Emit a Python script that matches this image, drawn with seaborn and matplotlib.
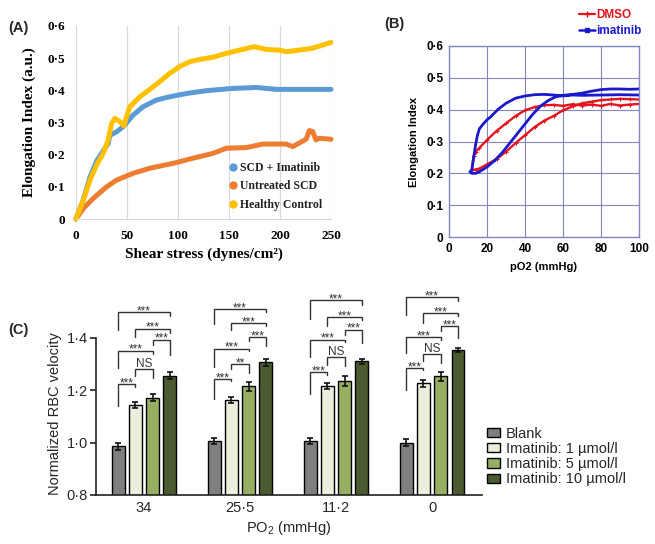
import numpy as np
import pandas as pd
import seaborn as sns
import matplotlib.pyplot as plt
from matplotlib.lines import Line2D
from matplotlib.ticker import FuncFormatter

# --- Panel A: elongation index vs shear stress ---
shear_imatinib = [0, 7.2, 13.7, 20.2, 28.4, 31.6, 33.2, 39.8, 46.3, 56, 65.8, 78.9, 91.9, 108,
                  127.8, 153.8, 176.7, 196.2, 219, 250]
ei_imatinib = [0, 0.06, 0.13, 0.18, 0.22, 0.235, 0.26, 0.271, 0.287, 0.323, 0.349, 0.37, 0.38, 0.39,
               0.399, 0.406, 0.409, 0.403, 0.403, 0.403]

shear_untreated = [0, 7.2, 16.9, 30, 39.8, 56, 72.4, 95.2, 114.7, 134.3, 147.3, 166.9, 183.2, 206,
                   212.5, 225.6, 228.8, 232, 235.3, 238.6, 250]
ei_untreated = [0, 0.033, 0.064, 0.1, 0.121, 0.142, 0.158, 0.173, 0.189, 0.204, 0.22, 0.222, 0.233,
                0.233, 0.225, 0.248, 0.275, 0.272, 0.246, 0.251, 0.248]

shear_healthy = [0, 7.2, 13.7, 20.2, 26.7, 31.6, 34.9, 38.1, 43, 46.9, 49.5, 52.8, 62.6, 72.4, 82.1,
                 91.9, 101.7, 111.5, 121.3, 134.3, 147.3, 160.4, 175, 186.4, 199.5, 206, 219, 232, 250]
ei_healthy = [0, 0.059, 0.121, 0.168, 0.204, 0.246, 0.297, 0.313, 0.303, 0.289, 0.318, 0.349, 0.38,
              0.403, 0.427, 0.453, 0.474, 0.489, 0.496, 0.503, 0.515, 0.525, 0.536, 0.527, 0.525,
              0.52, 0.525, 0.531, 0.549]

groups_a = ['SCD + Imatinib', 'Untreated SCD', 'Healthy Control']
colors_a = ['#5B9BD5', '#ED7D31', '#FFC000']

# --- Panel B: elongation index vs pO2 (hysteresis loops) ---
po2_dmso = [100, 95, 90, 85, 80, 75, 70, 65, 60, 55, 50, 45, 40, 35, 30, 25, 20, 16, 14, 13, 12,
            14, 16, 20, 25, 30, 35, 40, 45, 50, 55, 60, 65, 70, 75, 80, 85, 90, 95, 100]
ei_dmso = [0.418, 0.416, 0.413, 0.418, 0.412, 0.416, 0.413, 0.417, 0.412, 0.415, 0.414, 0.408, 0.398,
           0.38, 0.357, 0.333, 0.305, 0.28, 0.268, 0.255, 0.21,
           0.212, 0.215, 0.228, 0.245, 0.268, 0.295, 0.32, 0.345, 0.365, 0.38, 0.398, 0.41, 0.42,
           0.425, 0.43, 0.432, 0.434, 0.433, 0.432]

po2_imatinib = [100, 90, 80, 70, 65, 60, 55, 50, 45, 40, 35, 30, 26, 22, 20, 18, 16, 15, 14, 13, 12, 11,
                12, 14, 16, 20, 24, 28, 32, 36, 40, 44, 48, 52, 56, 60, 65, 70, 75, 80, 85, 90, 95, 100]
ei_imatinib_b = [0.446, 0.447, 0.446, 0.445, 0.446, 0.443, 0.446, 0.448, 0.447, 0.443, 0.436, 0.42,
                 0.402, 0.378, 0.368, 0.355, 0.34, 0.32, 0.29, 0.25, 0.21, 0.205,
                 0.2, 0.2, 0.205, 0.22, 0.24, 0.265, 0.295, 0.325, 0.355, 0.385, 0.41, 0.428, 0.44,
                 0.445, 0.448, 0.452, 0.458, 0.463, 0.465, 0.465, 0.464, 0.465]

# --- Panel C: normalized RBC velocity ---
po2_levels = ['34', '25·5', '11·2', '0']
treatments = ['Blank', 'Imatinib: 1 µmol/l', 'Imatinib: 5 µmol/l', 'Imatinib: 10 µmol/l']
vel_blank = [0.985, 1.007, 1.005, 1.0]
vel_1um = [1.142, 1.162, 1.215, 1.225]
vel_5um = [1.17, 1.215, 1.235, 1.252]
vel_10um = [1.255, 1.305, 1.31, 1.352]
err_blank = [0.013, 0.012, 0.012, 0.015]
err_1um = [0.012, 0.013, 0.012, 0.012]
err_5um = [0.013, 0.017, 0.018, 0.018]
err_10um = [0.013, 0.013, 0.01, 0.008]
colors_c = ['#7F7F7F', '#EDF0DA', '#9CBB58', '#4E6228']

# significance brackets (bar i, bar j) and their levels for each PO2 group
bracket_pairs = [(0, 1), (1, 2), (0, 2), (2, 3), (1, 3), (0, 3)]
bracket_top = [[1.222, 1.281, 1.350, 1.392, 1.434, 1.497],
               [1.242, 1.299, 1.357, 1.402, 1.455, 1.509],
               [1.267, 1.324, 1.392, 1.430, 1.478, 1.542],
               [1.283, 1.338, 1.402, 1.443, 1.493, 1.554]]
bracket_left = [[1.140, 1.254, 1.283, 1.373, 1.402, 1.427],
                [1.165, 1.280, 1.287, 1.385, 1.430, 1.451],
                [1.186, 1.296, 1.325, 1.411, 1.442, 1.471],
                [1.201, 1.309, 1.341, 1.423, 1.455, 1.487]]
bracket_right = [[1.213, 1.245, 1.338, 1.334, 1.417, 1.481],
                 [1.233, 1.264, 1.347, 1.369, 1.442, 1.496],
                 [1.258, 1.292, 1.381, 1.379, 1.465, 1.525],
                 [1.277, 1.303, 1.392, 1.398, 1.481, 1.538]]
bracket_labels = [['***', 'NS', '***', '***', '***', '***'],
                  ['***', '**', '***', '***', '***', '***'],
                  ['***', 'NS', '***', '***', '***', '***'],
                  ['***', 'NS', '***', '***', '***', '***']]


def dot_fmt(v, pos):
    if abs(v) < 1e-9:
        return '0'
    return f'{v:.1f}'.replace('.', '·')


sns.set_style('white')
plt.rcParams['font.family'] = ['Liberation Sans', 'DejaVu Sans']
plt.rcParams['mathtext.default'] = 'regular'

W, H = 655, 544
fig = plt.figure(figsize=(W / 100, H / 100), dpi=100)


def px_axes(left, top, right, bottom):
    return fig.add_axes([left / W, 1 - bottom / H, (right - left) / W, (bottom - top) / H])


# ---------------- Panel A ----------------
axA = px_axes(76, 26, 331, 219)
dfA = pd.concat([
    pd.DataFrame({'shear': shear_imatinib, 'ei': ei_imatinib, 'group': groups_a[0]}),
    pd.DataFrame({'shear': shear_untreated, 'ei': ei_untreated, 'group': groups_a[1]}),
    pd.DataFrame({'shear': shear_healthy, 'ei': ei_healthy, 'group': groups_a[2]}),
])
sns.lineplot(data=dfA, x='shear', y='ei', hue='group', hue_order=groups_a, palette=colors_a,
             sort=False, estimator=None, lw=3.6, ax=axA, legend=False)
for ln in axA.lines:
    ln.set_clip_on(False)
    ln.set_solid_capstyle('round')
    ln.set_solid_joinstyle('round')
axA.set_xlim(0, 250)
axA.set_ylim(0, 0.6)
axA.set_xticks(range(0, 251, 50))
axA.set_yticks(np.arange(0, 0.61, 0.1))
axA.yaxis.set_major_formatter(FuncFormatter(dot_fmt))
axA.xaxis.grid(True, color='#d9d9d9', lw=0.9)
axA.yaxis.grid(False)
for s in ['left', 'top', 'right']:
    axA.spines[s].set_visible(False)
axA.spines['bottom'].set_color('#d9d9d9')
serif_b = {'family': 'Liberation Serif', 'weight': 'bold'}
axA.tick_params(length=0, pad=8)
for lab in axA.get_xticklabels() + axA.get_yticklabels():
    lab.set_fontfamily('Liberation Serif')
    lab.set_fontweight('bold')
    lab.set_fontsize(9.5)
    lab.set_color('black')
axA.set_xlabel('Shear stress (dynes/cm²)', fontdict=serif_b, fontsize=11, color='black', labelpad=4)
axA.set_ylabel('Elongation Index (a.u.)', fontdict=serif_b, fontsize=11, color='black', labelpad=8)
handles_a = [Line2D([], [], marker='o', ls='', color=c, markersize=5) for c in colors_a]
legA = axA.legend(handles_a, groups_a, loc='lower right', frameon=False,
                  prop={'family': 'Liberation Serif', 'weight': 'bold', 'size': 8.5},
                  handletextpad=0.1, labelspacing=0.55, borderaxespad=0.3, handlelength=1.0)
for t in legA.get_texts():
    t.set_color('#222222')

# ---------------- Panel B ----------------
axB = px_axes(449, 46, 639, 237)
frame_b = '#8585C2'
red_b, blue_b = '#E3141E', '#1A1ACC'
dfB = pd.concat([
    pd.DataFrame({'po2': po2_dmso, 'ei': ei_dmso, 'group': 'DMSO'}),
    pd.DataFrame({'po2': po2_imatinib, 'ei': ei_imatinib_b, 'group': 'imatinib'}),
])
sns.lineplot(data=dfB[dfB.group == 'DMSO'], x='po2', y='ei', color=red_b, sort=False,
             estimator=None, lw=1.7, marker='+', markersize=3, mew=0.8, mec=red_b, ax=axB)
sns.lineplot(data=dfB[dfB.group == 'imatinib'], x='po2', y='ei', color=blue_b, sort=False,
             estimator=None, lw=2.0, marker='s', markersize=2, mew=0, mec=blue_b, ax=axB)
axB.set_xlim(0, 100)
axB.set_ylim(0, 0.6)
axB.set_xticks(range(0, 101, 20))
axB.set_yticks(np.arange(0, 0.61, 0.1))
axB.yaxis.set_major_formatter(FuncFormatter(dot_fmt))
axB.grid(True, color=frame_b, lw=0.8)
for s in axB.spines.values():
    s.set_color(frame_b)
    s.set_linewidth(1.0)
axB.tick_params(length=0, pad=4, labelsize=8.5, labelcolor='black')
for lab in axB.get_xticklabels() + axB.get_yticklabels():
    lab.set_fontweight('bold')
axB.set_xlabel('pO2 (mmHg)', fontsize=8, fontweight='bold', color='black', labelpad=5)
axB.set_ylabel('Elongation Index', fontsize=8, fontweight='bold', color='black', labelpad=5)
handles_b = [Line2D([], [], color=red_b, lw=1.6, marker='+', markersize=4, mew=1),
             Line2D([], [], color=blue_b, lw=1.8, marker='s', markersize=2.5)]
legB = fig.legend(handles_b, ['DMSO', 'imatinib'], loc='upper right', bbox_to_anchor=(646 / W, 1 - 4 / H),
                  frameon=False, prop={'weight': 'bold', 'size': 8.5}, handlelength=1.4,
                  handletextpad=0.05, labelspacing=0.35, borderaxespad=0)
for t, c in zip(legB.get_texts(), [red_b, blue_b]):
    t.set_color(c)

# ---------------- Panel C ----------------
axC = px_axes(96, 285, 482, 495)
vel_all = [vel_blank, vel_1um, vel_5um, vel_10um]
err_all = [err_blank, err_1um, err_5um, err_10um]
dfC = pd.DataFrame({
    'po2': np.tile(po2_levels, len(treatments)),
    'treatment': np.repeat(treatments, len(po2_levels)),
    'velocity': np.concatenate(vel_all),
})
sns.barplot(data=dfC, x='po2', y='velocity', hue='treatment', order=po2_levels, hue_order=treatments,
            palette=colors_c, width=0.72, gap=0.25, edgecolor='black', linewidth=1.0,
            errorbar=None, ax=axC)
bar_conts = list(axC.containers)
centers = np.zeros((len(po2_levels), len(treatments)))
for k, cont in enumerate(bar_conts):
    xs = [b.get_x() + b.get_width() / 2 for b in cont]
    ys = [b.get_height() for b in cont]
    centers[:, k] = xs
    axC.errorbar(xs, ys, yerr=err_all[k], fmt='none', ecolor='#111111', elinewidth=1.2,
                 capsize=2.5, capthick=1.2, zorder=5)

for g in range(len(po2_levels)):
    for b, (i, j) in enumerate(bracket_pairs):
        x1, x2 = centers[g, i], centers[g, j]
        top = bracket_top[g][b]
        axC.plot([x1, x1, x2, x2], [bracket_left[g][b], top, top, bracket_right[g][b]],
                 color='#333333', lw=1.0, solid_joinstyle='miter')
        lab = bracket_labels[g][b]
        if lab == 'NS':
            axC.annotate(lab, ((x1 + x2) / 2, top), xytext=(0, 1.5), textcoords='offset points',
                         ha='center', va='baseline', fontsize=8.5, color='#333333')
        else:
            axC.annotate(lab, ((x1 + x2) / 2, top), xytext=(0, -1.5), textcoords='offset points',
                         ha='center', va='baseline', fontsize=8.5, color='#333333')

axC.set_xlim(-0.5, 3.52)
axC.set_ylim(0.8, 1.6)
axC.set_yticks([0.8, 1.0, 1.2, 1.4])
axC.yaxis.set_major_formatter(FuncFormatter(dot_fmt))
axC.spines['top'].set_visible(False)
axC.spines['right'].set_visible(False)
axC.spines['left'].set_bounds(0.8, 1.4)
for s in ['left', 'bottom']:
    axC.spines[s].set_color('#222222')
    axC.spines[s].set_linewidth(1.2)
axC.tick_params(axis='y', left=True, length=4, width=1.2, pad=2, labelsize=10.5, color='#222222')
axC.tick_params(axis='x', bottom=False, length=0, pad=4, labelsize=10.5)
axC.set_xlabel('PO$_2$ (mmHg)', fontsize=10.5, labelpad=3)
axC.set_ylabel('Normalized RBC velocity', fontsize=10.5, labelpad=3, y=0.386)
handles_c, labels_c = axC.get_legend_handles_labels()
axC.get_legend().remove()
fig.legend(handles_c, labels_c, loc='upper left', bbox_to_anchor=(481 / W, 1 - 421 / H), frameon=False,
           fontsize=10.5, handlelength=0.9, handleheight=0.6, labelspacing=0.08, handletextpad=0.4,
           borderaxespad=0)

# panel letters
fig.text(8 / W, 1 - 28 / H, '(A)', fontsize=10.5, fontweight='bold', va='center')
fig.text(384 / W, 1 - 24 / H, '(B)', fontsize=10.5, fontweight='bold', va='center')
fig.text(8 / W, 1 - 330 / H, '(C)', fontsize=10.5, fontweight='bold', va='center')

fig.savefig('out.png', dpi=100)
